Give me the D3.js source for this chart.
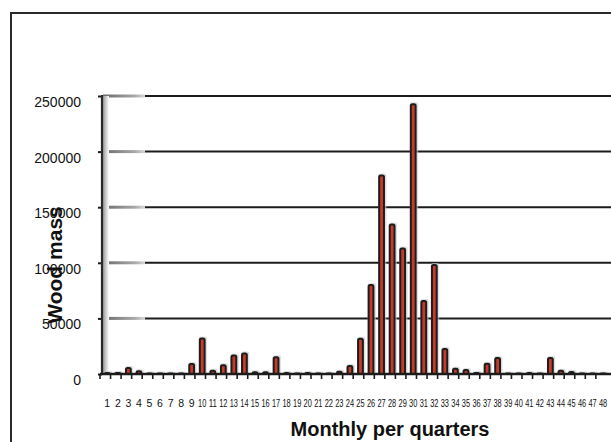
<!DOCTYPE html>
<html>
<head>
<meta charset="utf-8">
<script src="https://cdn.jsdelivr.net/npm/d3@7/dist/d3.min.js"></script>
<style>
  html, body { margin: 0; padding: 0; background: #fff; }
  svg { display: block; font-family: Arial, "Liberation Sans", sans-serif; }
</style>
</head>
<body>
<svg id="chart" width="611" height="442"></svg>
<script>
// Monthly wood mass, 48 periods
const categories = d3.range(1, 49).map(String);
const woodMass = [
  1000, 800, 5500, 2500, 500, 500, 500, 500, 9000, 32000,
  3000, 7800, 16700, 18500, 1500, 1500, 15000, 1000, 500, 1000,
  500, 500, 2000, 7200, 31700, 80000, 178500, 134500, 112800, 242500,
  65700, 98000, 22500, 4800, 3500, 800, 9300, 14300, 500, 500,
  1000, 500, 14300, 3000, 1800, 500, 500, 500
];
const yTicks = [0, 50000, 100000, 150000, 200000, 250000];
const yTitle = "Wood mass";
const xTitle = "Monthly per quarters";

const svg = d3.select("#chart");

// outer frame
svg.append("rect")
  .attr("x", 11).attr("y", 13)
  .attr("width", 640).attr("height", 460)
  .attr("fill", "none").attr("stroke", "#2a2a2a").attr("stroke-width", 2);

const plot = { left: 102, right: 608.4, top: 96, bottom: 374 };

const x = d3.scaleBand()
  .domain(categories)
  .range([plot.left, plot.right])
  .paddingInner(0).paddingOuter(0);

const y = d3.scaleLinear()
  .domain([0, 250000])
  .range([plot.bottom, plot.top]);

const defs = svg.append("defs");
const grad = defs.append("linearGradient").attr("id", "gridFade")
  .attr("x1", "0%").attr("x2", "100%").attr("y1", "0%").attr("y2", "0%");
grad.append("stop").attr("offset", "0%").attr("stop-color", "#6a6a6a");
grad.append("stop").attr("offset", "75%").attr("stop-color", "#a8a8a8");
grad.append("stop").attr("offset", "100%").attr("stop-color", "#d8d8d8");

const axisShade = defs.append("linearGradient").attr("id", "axisShade")
  .attr("x1", "0%").attr("x2", "100%").attr("y1", "0%").attr("y2", "0%");
axisShade.append("stop").attr("offset", "0%").attr("stop-color", "#9a9a9a");
axisShade.append("stop").attr("offset", "100%").attr("stop-color", "#ffffff");

// gridlines (faded start, solid remainder)
const grid = svg.append("g");
yTicks.filter(d => d > 0).forEach(v => {
  grid.append("line")
    .attr("x1", 145).attr("x2", 611)
    .attr("y1", y(v)).attr("y2", y(v))
    .attr("stroke", "#1c1c1c").attr("stroke-width", 2);
  grid.append("rect")
    .attr("x", 103).attr("y", y(v) - 1.5)
    .attr("width", 42).attr("height", 3)
    .attr("fill", "url(#gridFade)");
});

// shading next to the value axis
svg.append("rect")
  .attr("x", 103).attr("y", plot.top)
  .attr("width", 6).attr("height", plot.bottom - plot.top)
  .attr("fill", "url(#axisShade)");

// value axis
const yAxis = d3.axisLeft(y).tickValues(yTicks).tickSize(4).tickPadding(0)
  .tickFormat(d3.format("d"));
const yg = svg.append("g").attr("transform", `translate(${plot.left},0)`).call(yAxis);
yg.select(".domain").remove();
yg.selectAll(".tick line").attr("stroke", "#1c1c1c").attr("stroke-width", 2);
yg.selectAll(".tick text")
  .attr("x", -21).attr("dy", "0.75em")
  .attr("font-size", 14).attr("fill", "#111")
  .attr("font-family", "Arial, 'Liberation Sans', sans-serif");
svg.append("line")
  .attr("x1", plot.left).attr("x2", plot.left)
  .attr("y1", plot.top - 1).attr("y2", plot.bottom + 1)
  .attr("stroke", "#2a2a2a").attr("stroke-width", 2.2);

// bars
const barW = 4.8;
const bars = svg.append("g");
bars.selectAll("rect.shadow")
  .data(woodMass)
  .join("rect")
  .attr("class", "shadow")
  .attr("x", (d, i) => x(categories[i]) + x.bandwidth() / 2 - barW / 2 - 1)
  .attr("y", d => y(d) - 2)
  .attr("width", barW + 3.5)
  .attr("height", d => plot.bottom - y(d) + 2)
  .attr("rx", 2)
  .attr("fill", "#c9c9c9").attr("opacity", 0.6);
bars.selectAll("rect.bar")
  .data(woodMass)
  .join("rect")
  .attr("class", "bar")
  .attr("x", (d, i) => x(categories[i]) + x.bandwidth() / 2 - barW / 2)
  .attr("y", d => y(d))
  .attr("width", barW)
  .attr("height", d => plot.bottom - y(d))
  .attr("rx", 1.5)
  .attr("fill", "#c53a28")
  .attr("stroke", "#1c1c1c").attr("stroke-width", 2);

// category axis
svg.append("line")
  .attr("x1", plot.left - 2).attr("x2", 611)
  .attr("y1", plot.bottom).attr("y2", plot.bottom)
  .attr("stroke", "#1c1c1c").attr("stroke-width", 2.6);
const xAxis = d3.axisBottom(x).tickSize(0).tickPadding(0);
const xg = svg.append("g").attr("transform", `translate(0,${plot.bottom})`).call(xAxis);
xg.select(".domain").remove();
// two-digit labels are squeezed to fit their category slot
xg.selectAll(".tick text")
  .attr("y", 32.5).attr("dy", 0)
  .attr("font-size", 10.5).attr("fill", "#111")
  .attr("font-family", "Arial, 'Liberation Sans', sans-serif")
  .each(function(d) {
    if (d.length > 1) {
      d3.select(this)
        .attr("textLength", x.bandwidth() - 2.3)
        .attr("lengthAdjust", "spacingAndGlyphs");
    }
  });
// tick marks between categories
svg.append("g").selectAll("line")
  .data(categories)
  .join("line")
  .attr("x1", d => x(d) - 2).attr("x2", d => x(d) - 2)
  .attr("y1", plot.bottom).attr("y2", plot.bottom + 5)
  .attr("stroke", "#1c1c1c").attr("stroke-width", 1.6);

// axis titles
svg.append("text")
  .attr("x", 390).attr("y", 436)
  .attr("text-anchor", "middle")
  .attr("font-size", 20).attr("font-weight", "bold").attr("fill", "#111")
  .text(xTitle);
svg.append("text")
  .attr("transform", "translate(62,265) rotate(-90)")
  .attr("text-anchor", "middle")
  .attr("font-size", 21).attr("font-weight", "bold").attr("fill", "#111")
  .text(yTitle);
</script>
</body>
</html>
